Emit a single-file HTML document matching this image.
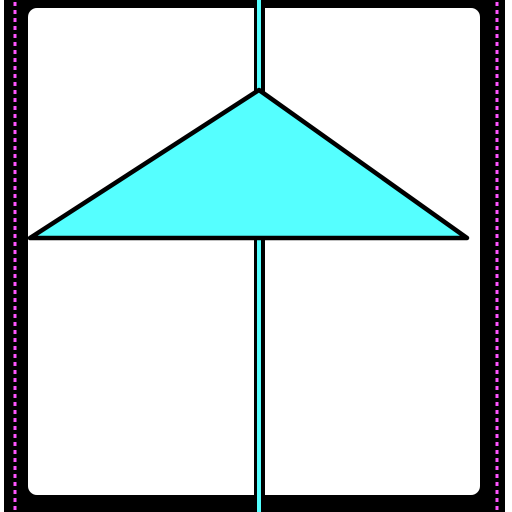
<!DOCTYPE html>
<html><head><meta charset="utf-8"><style>html,body{margin:0;padding:0;background:#fff}svg{display:block}</style></head>
<body>
<svg width="512" height="512" viewBox="0 0 512 512">
  <rect x="0" y="0" width="512" height="512" fill="#fff"/>
  <rect x="4" y="0" width="501" height="512" fill="#000"/>
  <rect x="28" y="8" width="452" height="487" rx="9" fill="#fff"/>
  <line x1="15" y1="2" x2="15" y2="512" stroke="#ff55ff" stroke-width="3" stroke-dasharray="4 4"/>
  <line x1="497" y1="2" x2="497" y2="512" stroke="#ff55ff" stroke-width="3" stroke-dasharray="4 4"/>
  <g>
    <rect x="254" y="0" width="11" height="512" fill="#000"/>
    <rect x="257" y="0" width="4" height="512" fill="#55ffff"/>
  </g>
  <polygon points="259,90 467,238 30,238" fill="#55ffff" stroke="#000" stroke-width="4.5" stroke-linejoin="round"/>
</svg>
</body></html>
